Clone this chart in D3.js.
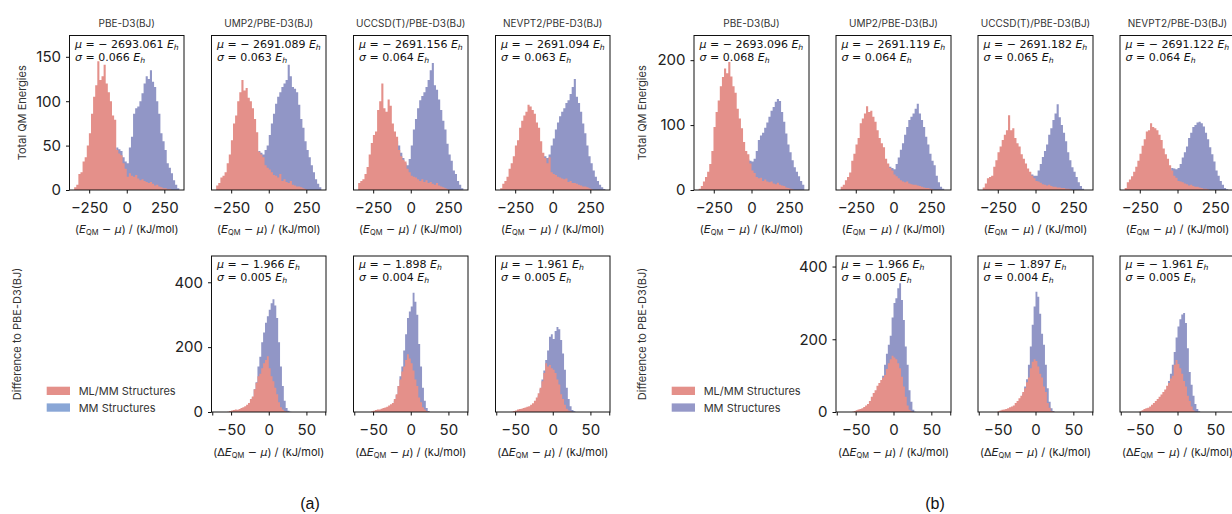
<!DOCTYPE html>
<html><head><meta charset="utf-8">
<script src="https://cdn.jsdelivr.net/npm/d3@7"></script>
<style>body{margin:0;background:#fff}svg{display:block}</style>
</head><body>
<svg id="c" width="1232" height="514"></svg>
<script>
// ---------------- DATA ----------------
const methods = ["PBE-D3(BJ)", "UMP2/PBE-D3(BJ)", "UCCSD(T)/PBE-D3(BJ)", "NEVPT2/PBE-D3(BJ)"];
const seriesNames = ["ML/MM Structures", "MM Structures"];
// histogram bin grids (kJ/mol)
const totalBinStart = -350, totalBinWidth = 14;
const diffBinStart = -60, diffBinWidth = 2.5;
// tick values
const totalXTicks = [-250, 0, 250];
const diffXTicks = [-50, 0, 50];
const diffXMinorTicks = [-75, 75];
const aTotalYTicks = [0, 50, 100, 150];
const bTotalYTicks = [0, 100, 200];
const diffYTicks = [0, 200, 400];
// annotations
const aTotalMu = ["− 2693.061", "− 2691.089", "− 2691.156", "− 2691.094"];
const aTotalSigma = ["0.066", "0.063", "0.064", "0.063"];
const aDiffMu = ["− 1.966", "− 1.898", "− 1.961"];
const aDiffSigma = ["0.005", "0.004", "0.005"];
const bTotalMu = ["− 2693.096", "− 2691.119", "− 2691.182", "− 2691.122"];
const bTotalSigma = ["0.068", "0.064", "0.065", "0.064"];
const bDiffMu = ["− 1.966", "− 1.897", "− 1.961"];
const bDiffSigma = ["0.005", "0.004", "0.005"];

// (a) total energies, counts per bin
const aTotalMLMM_PBE = [3,6,18,20,32,37,50,64,86,105,118,145,124,128,141,120,110,100,84,79,45,41,39,30,24,15,19,16,15,17,13,11,12,10,9,8,9,7,5,6,4,3,2,2,1,1,0,0,0,0];
const aTotalMM_PBE   = [0,0,0,0,0,0,0,0,0,0,0,0,0,0,0,0,2,5,15,30,48,46,44,37,32,30,48,60,86,92,94,100,109,120,128,125,135,122,116,100,86,64,55,45,30,25,19,11,6,2];
const aTotalMLMM_UMP2 = [5,8,14,16,20,30,40,56,75,84,100,110,124,112,115,104,100,92,80,65,43,40,37,28,25,23,20,17,16,14,18,10,12,9,8,10,6,5,4,4,3,2,1,0,0,0,0,0,0,0];
const aTotalMM_UMP2   = [0,0,0,0,0,0,0,0,0,0,0,0,0,0,0,0,2,8,25,40,44,42,40,45,50,62,75,86,97,105,110,116,120,124,141,128,116,114,110,96,80,70,55,45,37,28,20,12,7,3];
const aTotalMLMM_CC = [8,10,12,18,26,40,53,62,66,90,100,120,92,88,102,95,75,66,60,45,38,34,32,24,20,16,15,14,12,10,12,9,11,8,9,7,6,8,5,4,3,2,1,0,0,0,0,0,0,0];
const aTotalMM_CC   = [0,0,0,0,0,0,0,0,0,0,0,0,0,0,0,0,2,10,55,50,42,36,30,28,35,50,68,80,92,101,106,110,116,124,135,143,118,113,102,90,78,68,52,40,33,22,18,10,6,2];
const aTotalMLMM_NEV = [2,7,10,15,24,30,38,50,56,70,78,84,88,96,94,90,86,76,70,55,42,36,30,37,20,18,17,15,14,13,12,13,9,10,8,8,7,6,5,4,4,3,2,1,0,0,0,0,0,0];
const aTotalMM_NEV   = [0,0,0,0,0,0,0,0,0,0,0,0,0,0,0,0,2,6,20,35,38,38,36,40,50,58,68,76,83,88,92,98,101,108,116,125,105,98,88,75,64,50,38,30,22,15,10,6,3,1];

// (a) differences to PBE-D3(BJ)
const aDiffMLMM_UMP2 = [0,0,1,3,5,6,8,7,9,12,15,18,22,28,40,48,70,90,110,118,135,150,160,172,135,110,95,75,55,30,15,8,3,1,0,0,0,0];
const aDiffMM_UMP2   = [0,0,0,0,0,0,0,0,0,0,10,12,15,20,30,45,70,92,140,170,215,245,275,295,315,335,348,328,290,215,140,80,35,12,4,1,0,0];
const aDiffMLMM_CC = [0,0,0,2,4,6,8,8,10,12,14,16,20,24,28,40,55,80,100,125,140,160,178,165,150,128,100,80,45,30,15,8,3,1,0,0,0,0];
const aDiffMM_CC   = [0,0,0,0,0,0,0,0,0,0,0,0,0,12,20,35,52,80,110,140,190,240,290,310,325,368,340,300,210,140,75,35,12,3,0,0,0,0];
const aDiffMLMM_NEV = [0,0,1,3,5,8,9,10,12,14,16,18,22,27,35,45,58,75,95,120,150,140,145,135,130,120,100,85,55,40,22,10,5,2,0,0,0,0];
const aDiffMM_NEV   = [0,0,0,0,0,0,0,0,0,0,0,0,12,18,25,35,50,70,100,128,160,190,232,240,225,250,262,255,222,180,130,75,40,18,6,2,0,0];

// (b) total energies
const bTotalMLMM_PBE = [2,6,13,20,28,40,60,97,120,138,160,174,187,180,197,175,160,150,125,110,95,74,60,55,41,30,26,20,18,19,14,16,13,12,13,10,9,11,8,7,6,4,3,2,1,0,0,0,0,0];
const bTotalMM_PBE   = [0,0,0,0,0,0,0,0,0,0,0,0,0,0,0,2,5,10,20,30,38,42,45,47,45,44,48,60,77,84,88,96,104,113,122,128,136,140,137,120,105,87,70,58,46,35,28,21,14,8];
const bTotalMLMM_UMP2 = [5,8,15,20,27,45,56,70,80,103,110,118,129,120,122,113,105,92,80,72,66,48,41,34,30,24,21,18,15,13,12,13,10,9,8,8,7,6,5,4,3,3,2,1,0,0,0,0,0,0];
const bTotalMM_UMP2   = [0,0,0,0,0,0,0,0,0,0,0,0,0,0,0,0,2,5,10,18,25,30,36,36,34,32,40,50,62,72,85,97,108,113,118,125,133,118,108,97,82,70,56,45,38,22,12,5,2,0];
const bTotalMLMM_CC = [4,10,18,20,22,36,46,58,67,77,85,92,115,92,95,80,72,67,55,48,41,33,28,22,18,14,13,11,9,8,7,8,6,5,5,4,4,3,3,2,2,1,0,0,0,0,0,0,0,0];
const bTotalMM_CC   = [0,0,0,0,0,0,0,0,0,0,0,0,0,0,0,0,0,2,5,10,18,22,24,24,22,22,30,40,51,60,70,85,95,108,118,132,112,100,88,75,58,46,35,28,20,12,6,2,0,0];
const bTotalMLMM_NEV = [3,12,16,21,28,36,45,56,68,78,90,92,103,97,95,92,85,77,64,55,48,38,30,22,19,14,13,12,10,9,7,8,6,5,5,4,3,2,2,1,0,0,0,0,0,0,0,0,0,0];
const bTotalMM_NEV   = [0,0,0,0,0,0,0,0,0,0,0,0,0,0,0,0,0,2,6,12,20,28,34,33,32,34,40,50,58,67,80,88,97,100,104,105,103,98,88,78,66,55,44,30,22,14,8,3,1,0];

// (b) differences to PBE-D3(BJ)
const bDiffMLMM_UMP2 = [0,0,1,3,5,7,8,10,14,18,22,30,42,52,60,72,80,88,95,102,118,134,145,155,150,145,134,120,97,70,42,18,6,2,0,0,0,0];
const bDiffMM_UMP2   = [0,0,0,0,0,0,0,0,0,0,0,0,0,10,18,30,45,70,100,130,160,185,210,260,300,313,340,354,308,253,180,130,60,28,6,1,0,0];
const bDiffMLMM_CC = [0,0,0,0,2,4,6,7,8,10,13,15,18,25,30,38,45,55,65,82,95,120,138,145,140,125,105,95,70,55,25,12,3,1,0,0,0,0];
const bDiffMM_CC   = [0,0,0,0,0,0,0,0,0,0,0,0,0,0,12,20,35,50,70,90,130,180,240,290,331,317,270,215,185,130,65,28,10,3,0,0,0,0];
const bDiffMLMM_NEV = [0,0,0,0,2,5,8,10,12,15,20,25,30,36,42,48,55,62,72,80,92,100,130,143,132,120,105,85,70,45,30,15,5,1,0,0,0,0];
const bDiffMM_NEV   = [0,0,0,0,0,0,0,0,0,0,0,0,0,10,15,22,32,45,62,85,105,130,165,205,235,255,268,272,245,175,110,75,45,22,8,2,0,0];

// ---------------- LAYOUT / STYLE ----------------
const RED = "#e4908a", BLUE = "#9196c6";
const TICK_FONT = "Inter, 'Open Sans', sans-serif";
const MATH_FONT = "'DejaVu Sans', sans-serif";
const svg = d3.select("#c");

const figs = [
  { id: "a", lefts: [69.5, 211.5, 353.5, 495.5], w: 114.5, totalYMax: 174, diffYMax: 481,
    totalYTicks: aTotalYTicks, legendBlue: "#89a6d6",
    totalML: [aTotalMLMM_PBE, aTotalMLMM_UMP2, aTotalMLMM_CC, aTotalMLMM_NEV],
    totalMM: [aTotalMM_PBE, aTotalMM_UMP2, aTotalMM_CC, aTotalMM_NEV],
    diffML: [aDiffMLMM_UMP2, aDiffMLMM_CC, aDiffMLMM_NEV],
    diffMM: [aDiffMM_UMP2, aDiffMM_CC, aDiffMM_NEV],
    totalMu: aTotalMu, totalSigma: aTotalSigma, diffMu: aDiffMu, diffSigma: aDiffSigma,
    ylabX: 21.7, ylab2X: 17, legX: 46.7, label: "(a)", labelX: 310 },
  { id: "b", lefts: [694, 836, 978, 1120], w: 115, totalYMax: 238, diffYMax: 429,
    totalYTicks: bTotalYTicks, legendBlue: "#9598c8",
    totalML: [bTotalMLMM_PBE, bTotalMLMM_UMP2, bTotalMLMM_CC, bTotalMLMM_NEV],
    totalMM: [bTotalMM_PBE, bTotalMM_UMP2, bTotalMM_CC, bTotalMM_NEV],
    diffML: [bDiffMLMM_UMP2, bDiffMLMM_CC, bDiffMLMM_NEV],
    diffMM: [bDiffMM_UMP2, bDiffMM_CC, bDiffMM_NEV],
    totalMu: bTotalMu, totalSigma: bTotalSigma, diffMu: bDiffMu, diffSigma: bDiffSigma,
    ylabX: 641.7, ylab2X: 641.7, legX: 671.7, label: "(b)", labelX: 935 }
];
const topY = 35.5, topH = 154.5, botY = 256, botH = 156;
const fmt = d => d < 0 ? "\u2212" + Math.abs(d) : String(d);
let clipId = 0;

function hist(g, counts, start, width, x, y, color) {
  const pts = counts.map((c, i) => ({ e: start + i * width, c }));
  pts.push({ e: start + counts.length * width, c: 0 });
  const area = d3.area().curve(d3.curveStepAfter)
    .x(d => x(d.e)).y0(y(0)).y1(d => y(d.c));
  g.append("path").attr("d", area(pts)).attr("fill", color);
}

function mathLine(g, x, yb, sym, val) {
  const t = g.append("text").attr("x", x).attr("y", yb)
    .attr("font-family", MATH_FONT).attr("font-size", 11).attr("fill", "#111");
  t.append("tspan").attr("font-style", "italic").text(sym);
  t.append("tspan").text(" = " + val + " ");
  t.append("tspan").attr("font-style", "italic").text("E");
  t.append("tspan").attr("font-style", "italic").attr("font-size", 7.7).attr("dy", 2).text("h");
}

function xLabel(cx, yb, delta) {
  const t = svg.append("text").attr("x", cx).attr("y", yb).attr("text-anchor", "middle")
    .attr("font-size", 11).attr("fill", "#222").attr("font-family", TICK_FONT);
  t.append("tspan").text("(");
  t.append("tspan").attr("font-family", MATH_FONT).text(delta ? "Δ" : "");
  t.append("tspan").attr("font-family", MATH_FONT).attr("font-style", "italic").text("E");
  t.append("tspan").attr("font-size", 7.5).attr("dy", 2).text("QM");
  t.append("tspan").attr("font-family", MATH_FONT).attr("dy", -2).text(" \u2212 ");
  t.append("tspan").attr("font-family", MATH_FONT).attr("font-style", "italic").text("μ");
  t.append("tspan").text(") / (kJ/mol)");
}

function panel(left, top, w, h, xDomain, yMax, ml, mm, start, width, xTicks, minorTicks, yTicks, mu, sigma) {
  const x = d3.scaleLinear().domain(xDomain).range([left, left + w]);
  const y = d3.scaleLinear().domain([0, yMax]).range([top + h, top]);
  const id = "clip" + (clipId++);
  svg.append("clipPath").attr("id", id).append("rect")
    .attr("x", left).attr("y", top).attr("width", w).attr("height", h);
  const g = svg.append("g").attr("clip-path", `url(#${id})`);
  hist(g, mm, start, width, x, y, BLUE);
  hist(g, ml, start, width, x, y, RED);
  svg.append("rect").attr("x", left).attr("y", top).attr("width", w).attr("height", h)
    .attr("fill", "none").attr("stroke", "#111").attr("stroke-width", 1);
  const ax = svg.append("g").attr("transform", `translate(0,${top + h})`)
    .call(d3.axisBottom(x).tickValues(xTicks.concat(minorTicks)).tickSize(3.5).tickPadding(9)
      .tickFormat(d => xTicks.includes(d) ? fmt(d) : ""));
  ax.select(".domain").remove();
  ax.selectAll("line").attr("stroke", "#111");
  ax.selectAll("text").attr("font-family", TICK_FONT).attr("font-size", 15).attr("fill", "#222");
  if (yTicks) {
    const ay = svg.append("g").attr("transform", `translate(${left},0)`)
      .call(d3.axisLeft(y).tickValues(yTicks).tickSize(3.5).tickPadding(5).tickFormat(fmt));
    ay.select(".domain").remove();
    ay.selectAll("line").attr("stroke", "#111");
    ay.selectAll("text").attr("font-family", TICK_FONT).attr("font-size", 15).attr("fill", "#222");
  }
  const ag = svg.append("g");
  mathLine(ag, left + 5.5, top + 12, "μ", mu);
  mathLine(ag, left + 5.5, top + 25, "σ", sigma);
}

figs.forEach(f => {
  // top row: total QM energies
  f.lefts.forEach((L, i) => {
    panel(L, topY, f.w, topH, [-381, 381], f.totalYMax, f.totalML[i], f.totalMM[i],
      totalBinStart, totalBinWidth, totalXTicks, [], i === 0 ? f.totalYTicks : null,
      f.totalMu[i], f.totalSigma[i]);
    svg.append("text").attr("x", L + f.w / 2).attr("y", 27).attr("text-anchor", "middle")
      .attr("font-family", TICK_FONT).attr("font-size", 10).attr("fill", "#333").text(methods[i]);
    xLabel(L + f.w / 2, 233, false);
  });
  // bottom row: differences
  f.lefts.slice(1).forEach((L, i) => {
    panel(L, botY, f.w, botH, [-76, 76], f.diffYMax, f.diffML[i], f.diffMM[i],
      diffBinStart, diffBinWidth, diffXTicks, diffXMinorTicks, i === 0 ? diffYTicks : null,
      f.diffMu[i], f.diffSigma[i]);
    xLabel(L + f.w / 2, 455.5, true);
  });
  // y labels
  svg.append("text").attr("transform", `translate(${f.ylabX},${topY + topH / 2}) rotate(-90)`)
    .attr("text-anchor", "middle").attr("dy", "0.35em").attr("font-family", TICK_FONT)
    .attr("font-size", 11).attr("fill", "#333").text("Total QM Energies");
  svg.append("text").attr("transform", `translate(${f.ylab2X},${botY + botH / 2}) rotate(-90)`)
    .attr("text-anchor", "middle").attr("dy", "0.35em").attr("font-family", TICK_FONT)
    .attr("font-size", 11).attr("fill", "#333").text("Difference to PBE-D3(BJ)");
  // legend
  const legColors = [RED, f.legendBlue];
  seriesNames.forEach((s, k) => {
    svg.append("rect").attr("x", f.legX).attr("y", 386.7 + k * 16.7).attr("width", 23.3).attr("height", 8.3)
      .attr("fill", legColors[k]);
    svg.append("text").attr("x", f.legX + 32).attr("y", 391 + k * 16.7).attr("dy", "0.35em")
      .attr("font-family", TICK_FONT).attr("font-size", 11).attr("fill", "#333").text(s);
  });
  svg.append("text").attr("x", f.labelX).attr("y", 503).attr("dy", "0.35em").attr("text-anchor", "middle")
    .attr("font-family", "'Liberation Sans', Arial, sans-serif").attr("font-size", 16).attr("fill", "#111")
    .text(f.label);
});
</script>
</body></html>
